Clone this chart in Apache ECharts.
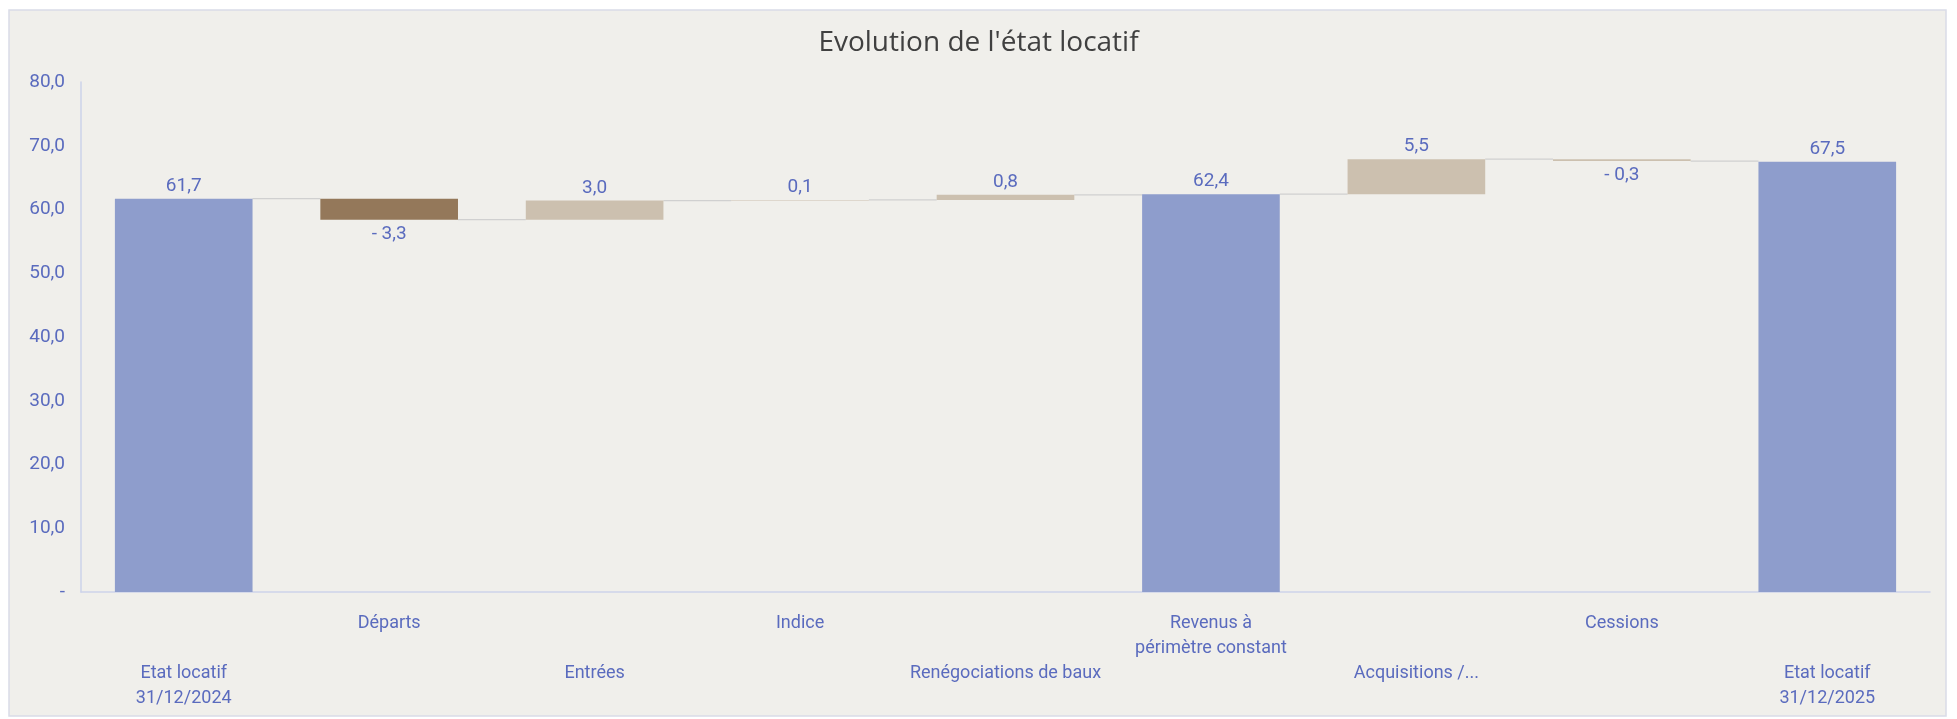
<!DOCTYPE html>
<html><head><meta charset="utf-8">
<script src="https://cdn.jsdelivr.net/npm/echarts@6/dist/echarts.min.js"></script>
<style>html,body{margin:0;padding:0;background:#fff}#c{width:1957px;height:719px}</style>
</head><body><div id="c"></div>
<script>
const categories = ['Etat locatif\n31/12/2024','Départs','Entrées','Indice','Renégociations de baux','Revenus à\npérimètre constant','Acquisitions /...','Cessions','Etat locatif\n31/12/2025'];
const values = [61.7, -3.3, 3.0, 0.1, 0.8, 62.4, 5.5, -0.3, 67.5];
const isTotal = [true, false, false, false, false, true, false, false, true];
const yTicks = {min: 0, max: 80, interval: 10};

const COL_TOTAL = '#8E9DCC', COL_NEG = '#94785A', COL_POS = '#CCC0AF';
const TXT = '#5A6BBE';

// waterfall construction
const base = [], delta = [], ends = [];
let level = 0;
values.forEach((v, i) => {
  if (isTotal[i]) { base.push(0); delta.push(v); level = v; }
  else {
    const start = level, end = level + v;
    base.push(Math.min(start, end)); delta.push(Math.abs(v)); level = end;
  }
  ends.push(level);
});
const fmt = v => (v < 0 ? '- ' : '') + Math.abs(v).toFixed(1).replace('.', ',');

const chart = echarts.init(document.getElementById('c'));
chart.setOption({
  animation: false,
  backgroundColor: '#ffffff',
  graphic: [{type: 'rect', z: -10, shape: {x: 9, y: 10, width: 1937, height: 706},
    style: {fill: '#F0EFEB', stroke: '#D9DCE8', lineWidth: 1.5}}],
  title: {text: "Evolution de l'état locatif", left: 'center', top: 24,
    textStyle: {fontFamily: 'Open Sans', fontSize: 28, fontWeight: 'normal', color: '#404040'}},
  grid: {left: 81, right: 27, top: 82, bottom: 127, containLabel: false},
  xAxis: {type: 'category', data: categories,
    axisLine: {lineStyle: {color: '#CDD3EA', width: 1.5}},
    axisTick: {show: false},
    axisLabel: {interval: 0, margin: 19, color: TXT, fontFamily: 'Roboto', fontSize: 18, lineHeight: 25,
      formatter: (v, i) => (i % 2 === 0 ? '\n\n' : '') + v}},
  yAxis: {type: 'value', min: yTicks.min, max: yTicks.max, interval: yTicks.interval,
    axisLine: {show: true, lineStyle: {color: '#CDD3EA', width: 1.5}},
    splitLine: {show: false}, axisTick: {show: false},
    axisLabel: {color: TXT, fontFamily: 'Roboto', fontSize: 19, margin: 16,
      formatter: v => v === 0 ? '-' : v.toFixed(1).replace('.', ',')}},
  series: [
    {type: 'bar', stack: 'w', data: base, itemStyle: {color: 'transparent'}, barCategoryGap: '33%', silent: true},
    {type: 'bar', stack: 'w', barCategoryGap: '33%',
      data: delta.map((d, i) => ({
        value: d,
        itemStyle: {color: isTotal[i] ? COL_TOTAL : (i === 1 ? COL_NEG : COL_POS)},
        label: {show: true, position: (values[i] < 0 ? 'bottom' : 'top'), distance: values[i] < 0 ? 5 : 3,
          formatter: () => fmt(values[i]), color: TXT, fontFamily: 'Roboto', fontSize: 19}
      }))},
    {type: 'custom', z: 1, silent: true,
      data: ends.slice(0, -1).map((e, i) => [i, e]),
      renderItem: (params, api) => {
        const i = api.value(0), lv = api.value(1);
        const p1 = api.coord([i, lv]), p2 = api.coord([i + 1, lv]);
        const half = api.size([1, 0])[0] * 0.67 / 2;
        return {type: 'line', shape: {x1: p1[0] + half, y1: p1[1], x2: p2[0] - half, y2: p2[1]},
          style: {stroke: '#D0D0D0', lineWidth: 1.2}};
      }}
  ]
});
</script></body></html>
